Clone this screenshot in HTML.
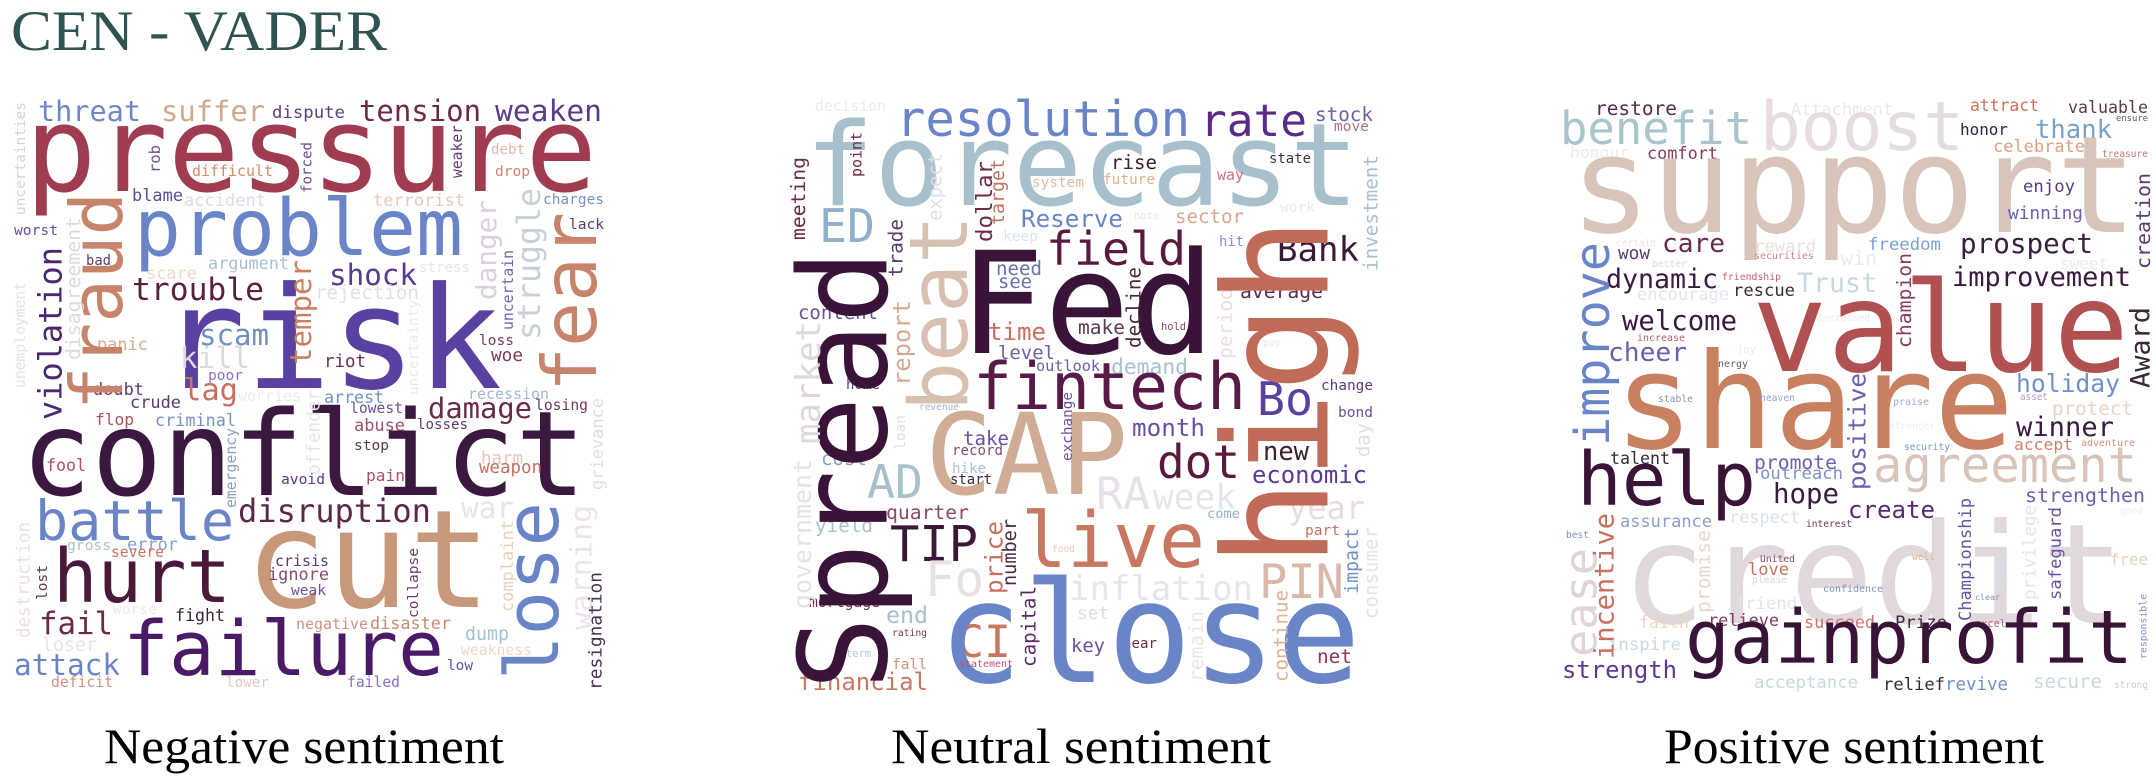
<!DOCTYPE html>
<html><head><meta charset="utf-8"><style>
html,body{margin:0;padding:0;background:#fff;width:2156px;height:784px;overflow:hidden}
svg{display:block}
.w{font-family:"DejaVu Sans Mono","Liberation Mono",monospace}
.s{font-family:"Liberation Serif",serif}
</style></head><body>
<svg id="chart" xmlns="http://www.w3.org/2000/svg" width="2156" height="784" viewBox="0 0 2156 784">
<text class="s" x="11" y="50" font-size="57" fill="#2f5350" textLength="376" lengthAdjust="spacingAndGlyphs">CEN - VADER</text>
<text class="s" x="104" y="763" font-size="50" fill="#000" textLength="400" lengthAdjust="spacingAndGlyphs">Negative sentiment</text>
<text class="s" x="891" y="763" font-size="50" fill="#000" textLength="380" lengthAdjust="spacingAndGlyphs">Neutral sentiment</text>
<text class="s" x="1664" y="763" font-size="50" fill="#000" textLength="380" lengthAdjust="spacingAndGlyphs">Positive sentiment</text>
<g id="c1"></g>
<g id="c2"></g>
<g id="c3"></g>
</svg>
<script>
// horizontal: [word, x1, x2, baseline, color]; vertical: [word, xLeft, yTop, yBottom, color]
const negH=[["threat",38,141,121,"#6f86c8"],["suffer",161,265,121,"#d0a88a"],["dispute",272,345,118,"#5a3f80"],["tension",359,481,121,"#6b2a4a"],["weaken",495,602,121,"#5b3a88"],["pressure",25,597,191,"#a03c50"],["difficult",192,273,176,"#d08a6a"],["debt",491,525,154,"#e0b8a8"],["drop",495,530,176,"#d08070"],["blame",132,183,201,"#5a4a9a"],["accident",184,266,206,"#d8dde8"],["terrorist",373,465,206,"#e8c8b8"],["charges",543,604,204,"#7890c8"],["problem",134,463,255,"#6a84c8"],["lack",569,604,229,"#5a3a70"],["worst",14,58,235,"#6a50a0"],["bad",86,111,265,"#5a3a70"],["argument",208,289,269,"#a8c0d0"],["scare",146,197,279,"#f0d8c8"],["trouble",132,264,300,"#5a2040"],["shock",329,417,285,"#5a3a90"],["stress",419,470,272,"#f0e0e8"],["rejection",315,419,299,"#e0e0e8"],["risk",160,502,388,"#5a40a0"],["scam",199,269,345,"#7090c0"],["panic",97,148,350,"#d8a890"],["kill",180,250,368,"#e0d8dc"],["riot",324,366,367,"#6a3050"],["loss",479,514,345,"#7a3a5a"],["woe",491,523,361,"#7a3a5a"],["poor",208,243,380,"#8a70c0"],["doubt",93,144,395,"#5a3a70"],["lag",183,238,400,"#c87060"],["worries",238,301,401,"#f0e8ec"],["arrest",324,384,403,"#7090c8"],["recession",468,549,399,"#a0b8d0"],["crude",130,181,408,"#5a3a70"],["lowest",350,403,413,"#6a50a0"],["damage",428,532,418,"#6a2a4a"],["losing",535,588,410,"#6a3a5a"],["flop",95,134,425,"#b05060"],["criminal",155,236,426,"#7890c0"],["abuse",354,405,431,"#a05068"],["losses",417,468,429,"#5a3a70"],["conflict",21,586,495,"#3a1840"],["stop",354,389,450,"#5a3a50"],["fool",46,86,471,"#b05060"],["harm",481,523,464,"#e8c8b8"],["weapon",479,542,473,"#c87060"],["pain",366,405,481,"#b05060"],["avoid",281,325,484,"#5a3a80"],["battle",35,234,540,"#6a84c8"],["disruption",238,431,522,"#5a2848"],["war",461,514,518,"#e8e4ec"],["cut",245,491,607,"#c8987a"],["gross",67,111,550,"#a8c0d0"],["error",127,178,550,"#8aa0c8"],["severe",111,164,557,"#d07060"],["hurt",53,231,602,"#4a1838"],["crisis",275,329,566,"#5a3a70"],["ignore",268,329,580,"#8a4a6a"],["weak",291,326,595,"#6a50a0"],["worse",113,157,614,"#f0e8ec"],["fight",175,225,621,"#3a2838"],["fail",39,113,634,"#6a2a4a"],["negative",296,368,629,"#d09080"],["disaster",370,451,629,"#c88a6a"],["failure",123,444,675,"#4a1a68"],["dump",465,509,640,"#a8c0d0"],["loser",42,97,651,"#e8e4ec"],["weakness",461,532,655,"#f0d8c8"],["attack",14,120,675,"#6a84c8"],["low",447,473,670,"#6a50a0"],["deficit",51,113,687,"#d09080"],["lower",226,269,687,"#e8c8b8"],["failed",347,400,687,"#8a70c0"]];
const negV=[["rob",148,145,173,"#6b4f8a"],["forced",301,142,193,"#6a4a8a"],["weaker",451,125,178,"#5a3a70"],["uncertainties",14,102,215,"#ddd0d8"],["fraud",67,192,410,"#c8846a"],["struggle",516,188,340,"#c8d0d8"],["danger",475,200,300,"#ddd0dc"],["fear",539,212,392,"#c8846a"],["disagreement",65,217,360,"#e0d8e0"],["unemployment",14,282,388,"#e8e0e8"],["violation",37,247,420,"#4a2870"],["temper",289,260,365,"#c88060"],["uncertain",502,250,330,"#6a6ab0"],["uncertainty",407,300,395,"#ece8ec"],["grievance",590,398,490,"#e0dce4"],["offender",306,390,475,"#e8e0ec"],["emergency",225,428,508,"#8aa0c8"],["warning",569,505,630,"#ece4ec"],["lose",502,502,680,"#6a84c8"],["complaint",500,520,612,"#e8d0b8"],["destruction",16,522,638,"#ece0e4"],["lost",36,565,600,"#5a3a50"],["collapse",407,548,618,"#6a3a6a"],["resignation",588,572,690,"#4a3050"]];
const neuH=[["decision",815,886,111,"#ece8ee"],["forecast",805,1359,205,"#a8c0cc"],["resolution",896,1190,136,"#6a84c8"],["rate",1200,1307,136,"#5a2a88"],["stock",1315,1373,121,"#6a60a8"],["move",1334,1369,131,"#b07080"],["rise",1111,1157,169,"#3a2030"],["state",1269,1311,163,"#4a3040"],["system",1032,1084,187,"#e0b8a0"],["future",1103,1155,184,"#e0b090"],["way",1217,1244,180,"#d07080"],["work",1280,1315,212,"#ece8ee"],["ED",819,875,242,"#90b0c8"],["Reserve",1021,1123,227,"#6a84c8"],["note",1134,1159,219,"#f0e0e8"],["sector",1175,1244,223,"#d8a890"],["keep",1003,1038,241,"#dce4ec"],["hit",1219,1244,246,"#8090c8"],["field",1046,1186,265,"#5a1a40"],["Bank",1277,1359,261,"#3a1838"],["need",996,1042,275,"#6a70b0"],["see",998,1032,288,"#6a70b0"],["Fed",959,1215,353,"#3a1438"],["average",1240,1323,298,"#5a2a50"],["content",798,878,319,"#6a50a0"],["time",988,1046,340,"#c87060"],["make",1078,1125,334,"#5a3a50"],["hold",1161,1186,330,"#8a4a6a"],["pay",1263,1280,346,"#f0e0e8"],["level",998,1055,359,"#6a60a8"],["outlook",1036,1100,371,"#6a60a8"],["demand",1111,1188,374,"#a8c0d0"],["fintech",973,1246,409,"#5a1a48"],["Bo",1257,1313,415,"#5a40a0"],["change",1321,1373,390,"#5a3a80"],["home",846,880,389,"#5a3a80"],["revenue",919,959,410,"#a0b0d8"],["bond",1338,1373,417,"#6a50a0"],["month",1132,1205,436,"#6a50a0"],["CAP",925,1128,494,"#d0ac94"],["take",963,1009,445,"#6a50a0"],["record",952,1003,455,"#8a4a6a"],["cost",821,867,465,"#8aa0c8"],["dot",1157,1240,478,"#5a1a40"],["new",1263,1309,460,"#3a2030"],["hike",952,986,473,"#a8c0d0"],["start",950,992,484,"#3a2838"],["AD",867,923,498,"#a8c0cc"],["economic",1252,1367,483,"#5a3a90"],["RA",1096,1150,509,"#e8e0e8"],["week",1153,1236,509,"#e8e4ec"],["quarter",886,969,519,"#8a4a6a"],["year",1288,1365,519,"#e8dce0"],["come",1207,1240,518,"#90b0d0"],["yield",815,873,532,"#a8c0d0"],["TIP",890,978,561,"#3a1838"],["live",1021,1205,567,"#c87860"],["part",1305,1340,535,"#c87060"],["food",1052,1075,552,"#f0c8b8"],["Fo",925,984,596,"#e8e0e4"],["inflation",1069,1253,600,"#e8e4ec"],["PIN",1259,1344,598,"#d8b8a8"],["mortgage",809,880,607,"#6a2a4a"],["end",886,928,623,"#a8c0cc"],["set",1077,1109,619,"#d8e0e8"],["rating",892,927,636,"#6a3a5a"],["CI",957,1011,657,"#c87860"],["key",1071,1105,652,"#6a50a0"],["near",1123,1157,648,"#6a2a4a"],["close",938,1361,682,"#6a84c8"],["term",846,871,657,"#b0c8d8"],["net",1317,1352,663,"#8a3a50"],["fall",892,927,669,"#d09080"],["statement",959,1013,667,"#c05070"],["financial",798,928,690,"#c87860"]];
const neuV=[["meeting",790,157,240,"#6a2a4a"],["point",850,132,177,"#6a2a4a"],["expect",927,153,221,"#e0e0e8"],["beat",905,215,411,"#d8c0b0"],["dollar",975,161,242,"#6a2a4a"],["target",990,159,225,"#c87060"],["trade",888,219,277,"#5a3a70"],["Spread",794,250,690,"#3a1438"],["market",794,321,444,"#e0d8e0"],["government",792,459,609,"#e8e0e8"],["report",892,300,386,"#d8a890"],["loan",894,415,450,"#d8e0e8"],["decline",1126,267,348,"#4a2838"],["period",1217,288,359,"#ecdce4"],["exchange",1061,392,461,"#6a50a0"],["high",1217,217,567,"#c06a58"],["investment",1363,155,271,"#a8c0d0"],["day",1355,423,457,"#d8e0e8"],["price",984,521,594,"#c87060"],["number",1002,519,586,"#4a2848"],["impact",1344,528,594,"#7090c8"],["consumer",1363,527,619,"#e0e4ec"],["capital",1021,586,667,"#5a2a60"],["remain",1188,611,682,"#ece4e8"],["continue",1273,590,682,"#e0b090"]];
const posH=[["restore",1595,1677,115,"#5a2a4a"],["Attachment",1791,1893,115,"#ece8ee"],["attract",1970,2039,111,"#d07060"],["valuable",2068,2148,113,"#5a3a50"],["ensure",2116,2148,121,"#6a4a6a"],["benefit",1560,1752,144,"#a8c4cc"],["boost",1760,1964,150,"#e4dce0"],["honor",1960,2008,135,"#3a2040"],["thank",2035,2112,138,"#7aa0c8"],["honour",1570,1629,158,"#f0e8ec"],["comfort",1647,1718,159,"#8a3a60"],["celebrate",1993,2085,152,"#d8a080"],["treasure",2102,2148,157,"#d07080"],["support",1570,2137,232,"#d8c4b8"],["enjoy",2023,2075,192,"#5a3a80"],["winning",2008,2083,219,"#6a60b0"],["certain",1616,1656,246,"#f0e0e0"],["care",1662,1725,252,"#6a2a50"],["reward",1754,1816,252,"#ece0dc"],["securities",1754,1814,259,"#d08080"],["freedom",1868,1941,250,"#7aa0d0"],["prospect",1960,2093,253,"#3a2040"],["wow",1618,1650,259,"#5a3a80"],["win",1841,1877,265,"#ece8ee"],["better",1652,1687,267,"#d0dcec"],["sweet",2060,2108,269,"#e8ecf0"],["dynamic",1606,1718,288,"#3a1a40"],["friendship",1722,1781,280,"#c06070"],["Trust",1797,1877,292,"#c8d8e0"],["improvement",1952,2131,286,"#3a1a40"],["encourage",1637,1729,300,"#e0e8ee"],["rescue",1733,1795,296,"#3a2838"],["value",1752,2129,371,"#b05050"],["welcome",1622,1737,330,"#3a1a40"],["increased",1818,1870,321,"#f0ece8"],["increase",1637,1685,341,"#b06070"],["cheer",1608,1687,361,"#6a60b0"],["joy",1737,1756,353,"#f0e8ec"],["energy",1712,1748,367,"#6a5a6a"],["share",1614,2014,448,"#c88060"],["holiday",2016,2120,392,"#7090c8"],["stable",1658,1693,402,"#8a90a0"],["heaven",1760,1795,401,"#90a0d0"],["praise",1893,1929,405,"#a0a8d0"],["asset",2020,2048,400,"#b0a0b0"],["protect",2052,2133,415,"#ecd4c4"],["stronger",1889,1935,429,"#f0ecee"],["winner",2016,2114,436,"#3a1a40"],["security",1904,1950,450,"#8090c0"],["accept",2014,2073,450,"#d08070"],["adventure",2081,2135,446,"#d89080"],["talent",1610,1670,464,"#3a2838"],["promote",1754,1837,469,"#6a60b0"],["help",1577,1756,505,"#3a1438"],["agreement",1873,2137,482,"#d8c4b8"],["outreach",1760,1843,479,"#8090c0"],["hope",1773,1839,503,"#3a1a40"],["strengthen",2025,2145,502,"#6a60b0"],["create",1848,1935,518,"#5a2a70"],["good",2120,2143,514,"#f0ecee"],["assurance",1620,1712,527,"#8aa0c8"],["respect",1729,1800,523,"#d8e0e8"],["interest",1806,1852,527,"#6a3a50"],["best",1566,1589,538,"#8090c0"],["credit",1622,2125,623,"#e0d8dc"],["United",1760,1795,562,"#8a4a6a"],["well",1912,1935,560,"#e0b090"],["love",1748,1789,575,"#c87060"],["please",1752,1787,583,"#c8d8e8"],["free",2110,2148,565,"#e8d0c0"],["confidence",1823,1883,592,"#8090c8"],["clear",1975,2000,600,"#8090c0"],["friend",1735,1797,609,"#e0e4ec"],["faith",1639,1689,628,"#ecd4c4"],["relieve",1708,1779,626,"#8a3a60"],["succeed",1804,1875,628,"#d07070"],["Prize",1895,1947,628,"#3a2838"],["excel",1975,2006,627,"#c06070"],["inspire",1608,1681,650,"#c8d8e0"],["gainprofit",1685,2133,663,"#3a1438"],["strength",1562,1677,678,"#5a3a90"],["acceptance",1754,1858,688,"#c8d8e0"],["relief",1883,1945,690,"#3a2838"],["revive",1945,2008,690,"#7090c8"],["secure",2033,2102,688,"#c8d8e0"],["strong",2114,2148,688,"#c0d0e0"]];
const posV=[["improve",1572,242,446,"#6a84c8"],["creation",2135,173,269,"#5a3a70"],["champion",1896,253,348,"#8a3a60"],["Award",2129,307,388,"#3a2838"],["positive",1847,373,490,"#6a60b0"],["ease",1562,548,657,"#e0d4d8"],["incentive",1593,513,659,"#c87060"],["promise",1695,530,613,"#e8d8d0"],["Championship",1958,498,621,"#6a50a0"],["privilege",2022,505,600,"#e8e4ec"],["safeguard",2048,507,600,"#6a50a0"],["growth",1995,553,590,"#d8dce8"],["responsible",2139,594,659,"#8090c0"]];

const NS="http://www.w3.org/2000/svg";
function addH(g,d){
  const w=d[2]-d[1];
  const fs=w/(0.602*d[0].length);
  const t=document.createElementNS(NS,"text");
  
  
  t.setAttribute("class","w");
  t.setAttribute("x",d[1]);t.setAttribute("y",d[3]);
  t.setAttribute("font-size",fs.toFixed(1));
  t.setAttribute("fill",d[4]);
  t.setAttribute("textLength",w);t.setAttribute("lengthAdjust","spacingAndGlyphs");
  t.textContent=d[0];g.appendChild(t);
}
function addV(g,d){
  const L=d[3]-d[2];
  const fs=L/(0.602*d[0].length);
  const xb=d[1]+0.76*fs;
  const t=document.createElementNS(NS,"text");
  
  
  t.setAttribute("class","w");
  t.setAttribute("x",0);t.setAttribute("y",0);
  t.setAttribute("transform","translate("+xb.toFixed(1)+","+d[3]+") rotate(-90)");
  t.setAttribute("font-size",fs.toFixed(1));
  t.setAttribute("fill",d[4]);
  t.setAttribute("textLength",L);t.setAttribute("lengthAdjust","spacingAndGlyphs");
  t.textContent=d[0];g.appendChild(t);
}
[[negH,negV,"c1"],[neuH,neuV,"c2"],[posH,posV,"c3"]].forEach(function(c){
  const g=document.getElementById(c[2]);
  c[0].forEach(function(d){addH(g,d);});
  c[1].forEach(function(d){addV(g,d);});
});
</script>
</body></html>
